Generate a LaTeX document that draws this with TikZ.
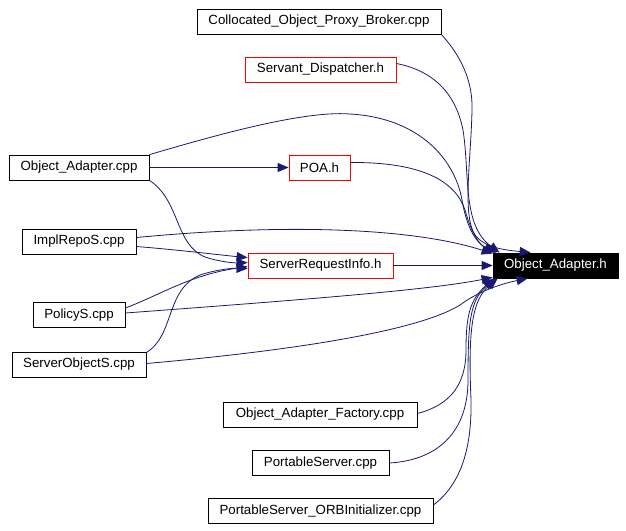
\documentclass[tikz,border=0pt]{standalone}
\usepackage{fontspec}
\setmainfont{Liberation Sans}
\usetikzlibrary{arrows.meta}
\definecolor{edgeblue}{HTML}{191970}
\begin{document}
\begin{tikzpicture}[x=1pt,y=-1pt,
  box/.style={draw=black,line width=0.8pt,inner sep=0pt,minimum height=25pt,
    font=\fontsize{13.3}{16}\selectfont,fill=white},
  redbox/.style={box,draw=red},
  mainbox/.style={box,fill=black,text=white},
  dep/.style={draw=edgeblue,line width=0.8pt,-{Triangle[length=11pt,width=9pt]}}]
\fill[white] (0,0) rectangle (626,530);
\path[use as bounding box] (0,0) rectangle (626,530);
% nodes
\node[box,minimum width=244pt] (coll) at (319,21.5) {Collocated\_Object\_Proxy\_Broker.cpp};
\node[redbox,minimum width=151pt] (serv) at (320.5,69.5) {Servant\_Dispatcher.h};
\node[box,minimum width=140pt] (oacpp) at (79,167.5) {Object\_Adapter.cpp};
\node[redbox,minimum width=61pt] (poa) at (319.5,167.5) {POA.h};
\node[box,minimum width=114pt] (impl) at (79,241.5) {ImplRepoS.cpp};
\node[redbox,minimum width=145pt] (sri) at (320.5,265.5) {ServerRequestInfo.h};
\node[mainbox,minimum width=125pt] (oah) at (555.5,265.5) {Object\_Adapter.h};
\node[box,minimum width=92pt] (policy) at (79,315) {PolicyS.cpp};
\node[box,minimum width=134pt] (sobj) at (79,364.5) {ServerObjectS.cpp};
\node[box,minimum width=194pt] (fact) at (320,414.5) {Object\_Adapter\_Factory.cpp};
\node[box,minimum width=137pt] (ps) at (320.5,463) {PortableServer.cpp};
\node[box,minimum width=225pt] (orb) at (320.5,511) {PortableServer\_ORBInitializer.cpp};
% edges into Object_Adapter.h
\draw[dep] (coll.south east) .. controls (460,55) and (473,80) .. (472,110)
  .. controls (471,160) and (462,215) .. (475,235)
  .. controls (485,248) and (505,250) .. ([shift={(38,0)}]oah.north west);
\draw[dep] ([shift={(0,-6)}]serv.east) .. controls (430,70) and (455,90) .. (463,130)
  .. controls (470,175) and (462,225) .. ([shift={(7,0)}]oah.north west);
\draw[dep] (oacpp.north east) .. controls (200,140) and (300,110) .. (350,114)
  .. controls (420,118) and (455,160) .. (462,200)
  .. controls (468,235) and (480,245) .. ([shift={(4,0)}]oah.north west);
\draw[dep] ([shift={(0,-5)}]poa.east) .. controls (420,162) and (455,180) .. (465,210)
  .. controls (472,235) and (480,245) .. ([shift={(2,0)}]oah.north west);
\draw[dep] ([shift={(0,-4)}]impl.east) .. controls (300,222) and (420,230) .. ([shift={(0,1)}]oah.north west);
\draw[dep] (sri.east) -- (oah.west);
\draw[dep] ([shift={(0,-2)}]policy.east) .. controls (300,300) and (430,290) .. ([shift={(0,-1)}]oah.south west);
\draw[dep] ([shift={(0,-1)}]sobj.east) .. controls (300,350) and (420,330) .. (460,305)
  .. controls (480,290) and (505,283) .. ([shift={(35,0)}]oah.south west);
\draw[dep] ([shift={(0,-1)}]fact.east) .. controls (450,405) and (466,385) .. (466,350)
  .. controls (466,315) and (470,300) .. ([shift={(1,0)}]oah.south west);
\draw[dep] (ps.east) .. controls (440,460) and (468,430) .. (468,380)
  .. controls (468,320) and (470,300) .. ([shift={(3,0)}]oah.south west);
\draw[dep] ([shift={(0,-6)}]orb.east) .. controls (460,485) and (472,450) .. (471,400)
  .. controls (468,330) and (472,300) .. ([shift={(5,0)}]oah.south west);
% edges into POA.h and ServerRequestInfo.h
\draw[dep] (oacpp.east) -- (poa.west);
\draw[dep] (oacpp.south east) .. controls (180,200) and (175,245) .. (205,257)
  .. controls (220,262) and (235,263) .. ([shift={(0,10)}]sri.north west);
\draw[dep] ([shift={(0,5)}]impl.east) .. controls (180,250) and (220,255) .. ([shift={(0,5)}]sri.north west);
\draw[dep] ([shift={(0,-7)}]policy.east) .. controls (160,295) and (190,275) .. ([shift={(0,14)}]sri.north west);
\draw[dep] ([shift={(0,-12)}]sobj.east) .. controls (175,335) and (165,290) .. (200,275)
  .. controls (215,270) and (232,268) .. ([shift={(0,16)}]sri.north west);
\end{tikzpicture}
\end{document}
